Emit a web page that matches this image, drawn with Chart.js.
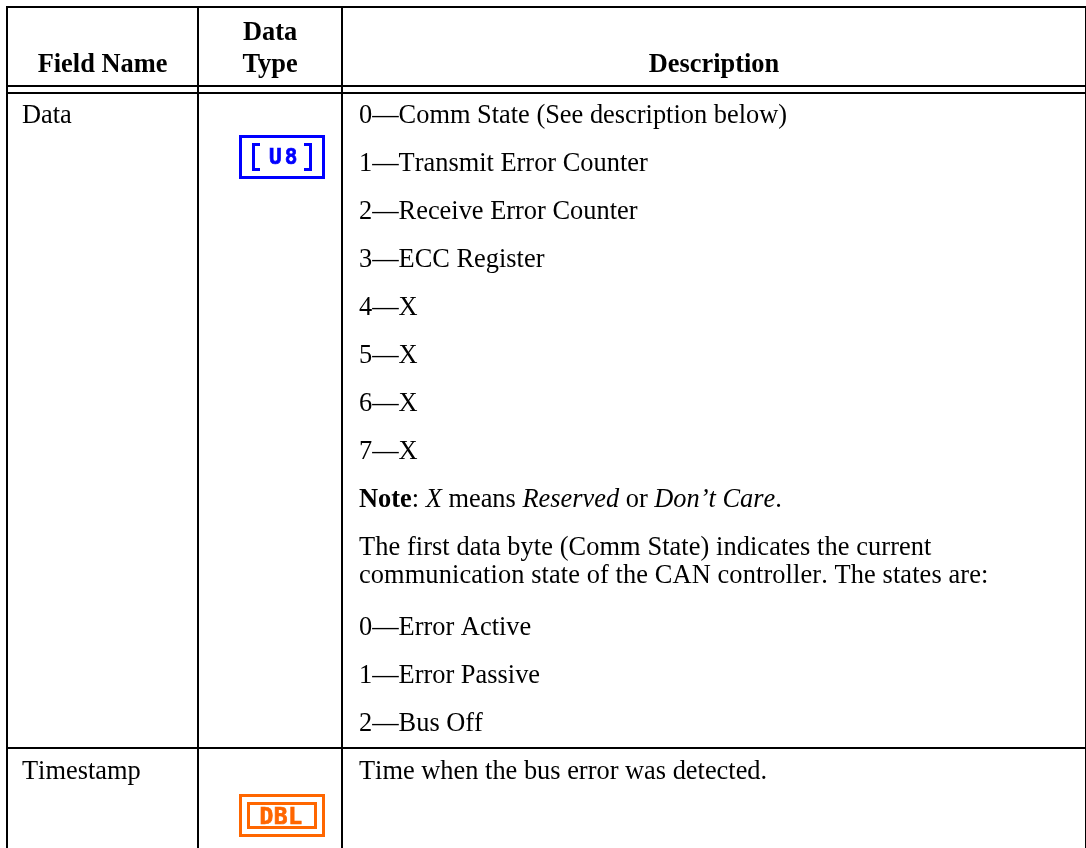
<!DOCTYPE html>
<html>
<head>
<meta charset="utf-8">
<title>Bus error frame fields</title>
<script src="https://cdn.jsdelivr.net/npm/chart.js@4/dist/chart.umd.min.js"></script>
<style>
  html, body { margin: 0; padding: 0; background: #fff; overflow: hidden; }
  canvas { display: block; }
</style>
</head>
<body>
<canvas id="fieldTable" width="1086" height="848"></canvas>
<script>
const headerTop = ["", "Data", ""];
const headerBottom = ["Field Name", "Type", "Description"];
const fieldNames = ["Data", "Timestamp"];
const dataTypes = ["U8", "DBL"];
const descriptionLines = [
  "0—Comm State (See description below)",
  "1—Transmit Error Counter",
  "2—Receive Error Counter",
  "3—ECC Register",
  "4—X",
  "5—X",
  "6—X",
  "7—X",
  null,
  "The first data byte (Comm State) indicates the current",
  "communication state of the CAN controller. The states are:",
  "0—Error Active",
  "1—Error Passive",
  "2—Bus Off",
  "Time when the bus error was detected."
];
const noteParts = [
  ["Note", "bold"], [": ", ""], ["X", "italic"], [" means ", ""], ["Reserved", "italic"],
  [" or ", ""], ["Don’t Care", "italic"], [".", ""]
];

// table layout, in page pixels
const columnRules = [7, 198, 342, 1086];
const rowRules = [7, 86, 93, 748];
const headerBaselines = [40, 72];
const fieldBaselines = [123, 779];
const descriptionBaselines = [123, 171, 219, 267, 315, 363, 411, 459, 507, 555, 583, 635, 683, 731, 779];
const wrappedLineTracking = { 9: 0.07, 10: 0.1 };
const FONT = '"Liberation Serif", "Times New Roman", serif';
const FONT_SIZE = 26.4;

function setTicks(values) {
  return function (scale) {
    scale.ticks = values.map(function (v) { return { value: v }; });
  };
}

function text(ctx, str, x, y, style, align, tracking) {
  ctx.font = (style ? style + " " : "") + FONT_SIZE + "px " + FONT;
  // the header keeps kerning, body text is set without it
  ctx.fontKerning = align === "center" ? "normal" : "none";
  ctx.letterSpacing = (tracking || 0) + "px";
  ctx.textAlign = align || "left";
  ctx.textBaseline = "alphabetic";
  ctx.fillStyle = "#000";
  ctx.fillText(str, x, y);
  ctx.letterSpacing = "0px";
}

function box(ctx, x, y, w, h, t, color) {
  ctx.strokeStyle = color;
  ctx.lineWidth = t;
  ctx.strokeRect(x + t / 2, y + t / 2, w - t, h - t);
}

function iconLabel(ctx, str, x, y, size, spacing, color) {
  ctx.font = 'bold ' + size + 'px "DejaVu Sans Mono", monospace';
  ctx.letterSpacing = spacing + "px";
  ctx.textAlign = "left";
  ctx.textBaseline = "alphabetic";
  ctx.fillStyle = color;
  ctx.strokeStyle = color;
  ctx.lineWidth = 0.7;
  ctx.fillText(str, x, y);
  ctx.strokeText(str, x, y);
  ctx.letterSpacing = "0px";
}

function drawU8(ctx, x, y) {
  const blue = "#0000ff";
  box(ctx, x, y, 86, 44, 3, blue);
  ctx.fillStyle = blue;
  ctx.fillRect(x + 13, y + 8, 3, 28);
  ctx.fillRect(x + 13, y + 8, 8, 3);
  ctx.fillRect(x + 13, y + 33, 8, 3);
  ctx.fillRect(x + 70, y + 8, 3, 28);
  ctx.fillRect(x + 65, y + 8, 8, 3);
  ctx.fillRect(x + 65, y + 33, 8, 3);
  iconLabel(ctx, dataTypes[0], x + 30, y + 29, 21, 3, blue);
}

function drawDbl(ctx, x, y) {
  const orange = "#ff6600";
  box(ctx, x, y, 86, 43, 3, orange);
  box(ctx, x + 8, y + 8, 70, 27, 3, orange);
  iconLabel(ctx, dataTypes[1], x + 20.5, y + 30, 23, 0.5, orange);
}

const tableText = {
  id: "tableText",
  afterDatasetsDraw: function (chart) {
    const ctx = chart.ctx;
    const sx = chart.scales.x;
    const sy = chart.scales.y;
    ctx.save();

    // header cells, centred in their columns
    headerBottom.forEach(function (label, i) {
      const cx = sx.getPixelForValue((columnRules[i] + columnRules[i + 1]) / 2);
      if (headerTop[i]) text(ctx, headerTop[i], cx, sy.getPixelForValue(headerBaselines[0]), "bold", "center");
      text(ctx, label, cx, sy.getPixelForValue(headerBaselines[1]), "bold", "center");
    });

    // field names and description lines sit on the dataset points
    chart.getDatasetMeta(0).data.forEach(function (pt, i) {
      text(ctx, fieldNames[i], pt.x, pt.y);
    });
    chart.getDatasetMeta(1).data.forEach(function (pt, i) {
      if (descriptionLines[i]) {
        text(ctx, descriptionLines[i], pt.x, pt.y, "", "left", wrappedLineTracking[i]);
      } else {
        let x = pt.x;
        noteParts.forEach(function (part) {
          text(ctx, part[0], x, pt.y, part[1]);
          x += ctx.measureText(part[0]).width;
        });
      }
    });

    drawU8(ctx, sx.getPixelForValue(239), sy.getPixelForValue(135));
    drawDbl(ctx, sx.getPixelForValue(239), sy.getPixelForValue(794));
    ctx.restore();
  }
};

new Chart(document.getElementById("fieldTable").getContext("2d"), {
  type: "scatter",
  data: {
    datasets: [
      { label: "Field Name", pointRadius: 0, data: fieldNames.map(function (n, i) { return { x: 22, y: fieldBaselines[i] }; }) },
      { label: "Description", pointRadius: 0, data: descriptionLines.map(function (l, i) { return { x: 359, y: descriptionBaselines[i] }; }) }
    ]
  },
  options: {
    responsive: false,
    animation: false,
    layout: { padding: { left: 6, top: 6, right: 0, bottom: 0 } },
    plugins: { legend: { display: false }, tooltip: { enabled: false }, title: { display: false } },
    scales: {
      x: {
        type: "linear",
        min: 6,
        max: 1086,
        afterBuildTicks: setTicks(columnRules),
        ticks: { display: false, autoSkip: false },
        border: { display: false },
        grid: { color: "#000", lineWidth: 2, drawTicks: false }
      },
      y: {
        type: "linear",
        reverse: true,
        min: 6,
        max: 848,
        afterBuildTicks: setTicks(rowRules),
        ticks: { display: false, autoSkip: false },
        border: { display: false },
        grid: { color: "#000", lineWidth: 2, drawTicks: false }
      }
    }
  },
  plugins: [tableText]
});
</script>
</body>
</html>
